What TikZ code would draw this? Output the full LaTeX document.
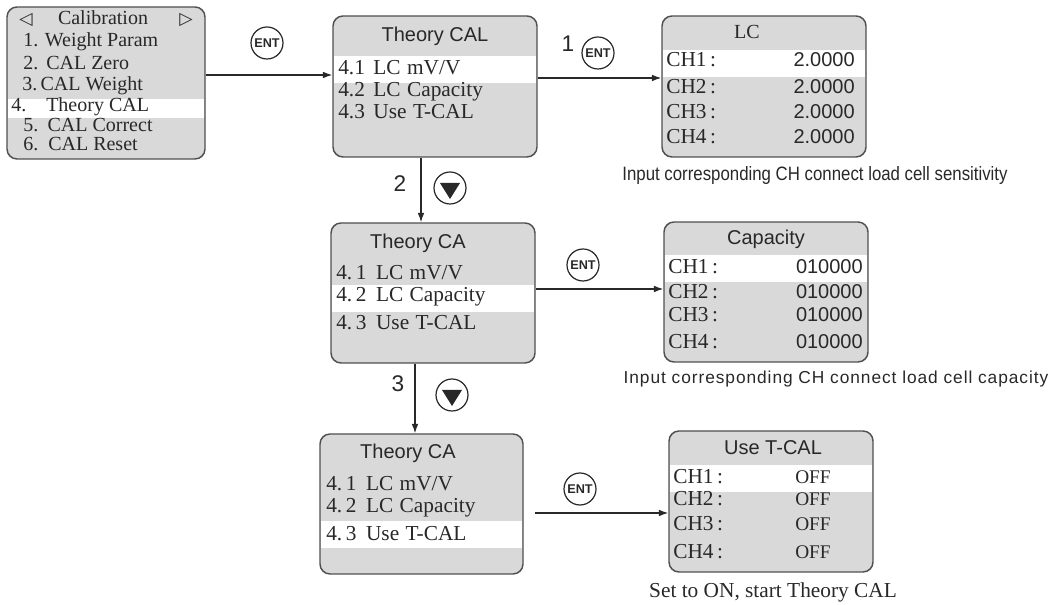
\documentclass[tikz,border=0pt]{standalone}
\usepackage{fontspec}
\setmainfont{Liberation Serif}
\setsansfont{Liberation Sans}
\newfontfamily\symbolfont{DejaVu Sans}
\newfontfamily\narrowsans[FakeStretch=0.87]{Liberation Sans}
\newfontfamily\widesans[LetterSpace=5.4]{Liberation Sans}
\usetikzlibrary{arrows.meta,fit}

\definecolor{screenfill}{RGB}{217,217,217}
\definecolor{framecol}{RGB}{80,80,80}
\definecolor{inkcol}{RGB}{40,40,40}

\tikzset{
  screen/.style={draw=framecol, line width=1.1pt, fill=screenfill,
                 rounded corners=7.5pt, inner sep=0pt},
  hilite/.style={fill=white},
  txt/.style={inner sep=0pt, text=inkcol, text height=0.7em, text depth=0.2em},
  menu/.style={txt, anchor=west, font=\fontsize{15}{15}\selectfont},
  item/.style={txt, anchor=west, font=\fontsize{16}{16}\selectfont},
  chan/.style={txt, anchor=west, font=\fontsize{16}{16}\selectfont},
  val/.style={txt, anchor=east, font=\sffamily\fontsize{15}{15}\selectfont},
  offval/.style={txt, font=\fontsize{14.5}{14.5}\selectfont},
  head/.style={txt, font=\sffamily\fontsize{15}{15}\selectfont},
  seriffhead/.style={txt, font=\fontsize{15}{15}\selectfont},
  arrowsym/.style={txt, font=\symbolfont\fontsize{13}{13}\selectfont},
  link/.style={draw=inkcol, line width=0.9pt, -{Latex[length=7pt,width=5pt]}},
  keycap/.style={circle, draw=inkcol, line width=0.9pt, minimum size=24pt,
                 inner sep=0pt, text=inkcol,
                 font=\sffamily\bfseries\fontsize{9.5}{9.5}\selectfont},
  stepnum/.style={txt, font=\sffamily\fontsize{17}{17}\selectfont},
  note/.style={txt, text=inkcol}
}

\begin{document}
\begin{tikzpicture}[x=0.75pt,y=-0.75pt]
\useasboundingbox (0,0) rectangle (1061,605);

% ---------- main calibration menu ----------
\node[screen, fit={(7,7)(205,159)}] (cal) {};
\fill[hilite] (8,99) rectangle (204,118);
\node[arrowsym] (calL) at (26,21) {◁};
\node[seriffhead] (calT) at (103,21) {Calibration};
\node[arrowsym] (calR) at (186,21) {▷};
\node[menu] (cal1) at (23,43)  {1. Weight Param};
\node[menu] (cal2) at (23,66)  {2.\hspace{6pt}CAL Zero};
\node[menu] (cal3) at (22,87)  {3.\hspace{2.5pt}CAL Weight};
\node[menu] (cal4) at (11,108) {4.\hspace{15pt}Theory CAL};
\node[menu] (cal5) at (23,128) {5.\hspace{7pt}CAL Correct};
\node[menu] (cal6) at (23,147) {6.\hspace{7.5pt}CAL Reset};

% ---------- Theory CAL, item 4.1 selected ----------
\node[screen, fit={(333,16)(537,157)}] (thA) {};
\fill[hilite] (334,56) rectangle (536,83);
\node[head] (thAT) at (435,38) {Theory CAL};
\node[item] (thA1) at (338,71)  {4.1\hspace{0.4em}LC\hspace{0.3em}mV/V};
\node[item] (thA2) at (338,93)  {4.2\hspace{0.4em}LC\hspace{0.3em}Capacity};
\node[item] (thA3) at (338,115) {4.3\hspace{0.4em}Use\hspace{0.3em}T-CAL};

% ---------- Theory CA, item 4.2 selected ----------
\node[screen, fit={(331,223)(535,363)}] (thB) {};
\fill[hilite] (332,285) rectangle (534,312);
\node[head] (thBT) at (418,245) {Theory CA};
\node[item] (thB1) at (336,276) {4.\,1\hspace{0.45em}LC\hspace{0.3em}mV/V};
\node[item] (thB2) at (336,298) {4.\,2\hspace{0.45em}LC\hspace{0.3em}Capacity};
\node[item] (thB3) at (336,326) {4.\,3\hspace{0.45em}Use\hspace{0.3em}T-CAL};

% ---------- Theory CA, item 4.3 selected ----------
\node[screen, fit={(320,434)(523,574)}] (thC) {};
\fill[hilite] (321,521) rectangle (522,548);
\node[head] (thCT) at (408,455) {Theory CA};
\node[item] (thC1) at (326,487) {4.\,1\hspace{0.45em}LC\hspace{0.3em}mV/V};
\node[item] (thC2) at (326,509) {4.\,2\hspace{0.45em}LC\hspace{0.3em}Capacity};
\node[item] (thC3) at (326,537) {4.\,3\hspace{0.45em}Use\hspace{0.3em}T-CAL};

% ---------- LC sensitivity screen ----------
\node[screen, fit={(662,16)(866,157)}] (lc) {};
\fill[hilite] (663,50) rectangle (865,77);
\node[seriffhead] (lcT) at (747,35) {LC};
\node[chan] (lc1) at (666,63)  {CH1\,:};
\node[chan] (lc2) at (666,90)  {CH2\,:};
\node[chan] (lc3) at (666,115) {CH3\,:};
\node[chan] (lc4) at (666,140) {CH4\,:};
\node[val] (lcv1) at (855,63)  {2.0000};
\node[val] (lcv2) at (855,90)  {2.0000};
\node[val] (lcv3) at (855,115) {2.0000};
\node[val] (lcv4) at (855,140) {2.0000};
\node[note, font=\narrowsans\fontsize{14.5}{14.5}\selectfont] (lcN) at (815,177)
  {Input corresponding CH connect load cell sensitivity};

% ---------- capacity screen ----------
\node[screen, fit={(664,222)(868,362)}] (cap) {};
\fill[hilite] (665,255) rectangle (867,282);
\node[head] (capT) at (766,241) {Capacity};
\node[chan] (cap1) at (668,270) {CH1\,:};
\node[chan] (cap2) at (668,295) {CH2\,:};
\node[chan] (cap3) at (668,318) {CH3\,:};
\node[chan] (cap4) at (668,345) {CH4\,:};
\node[val] (capv1) at (863,270) {010000};
\node[val] (capv2) at (863,295) {010000};
\node[val] (capv3) at (863,318) {010000};
\node[val] (capv4) at (863,345) {010000};
\node[note, font=\widesans\fontsize{13}{13}\selectfont] (capN) at (836,380)
  {Input corresponding CH connect load cell capacity};

% ---------- Use T-CAL screen ----------
\node[screen, fit={(669,431)(873,572)}] (use) {};
\fill[hilite] (670,465) rectangle (872,492);
\node[head] (useT) at (773,451) {Use T-CAL};
\node[chan] (use1) at (673,480) {CH1\,:};
\node[chan] (use2) at (673,502) {CH2\,:};
\node[chan] (use3) at (673,527) {CH3\,:};
\node[chan] (use4) at (673,555) {CH4\,:};
\node[offval] (usev1) at (813,480) {OFF};
\node[offval] (usev2) at (813,502) {OFF};
\node[offval] (usev3) at (813,527) {OFF};
\node[offval] (usev4) at (813,555) {OFF};
\node[note, font=\fontsize{16}{16}\selectfont] (useN) at (773,594)
  {Set to ON, start Theory CAL};

% ---------- key icons and step numbers ----------
\node[keycap] (entA) at (267,43) {ENT};
\node[stepnum] (numA) at (568,48) {1};
\node[keycap] (entB) at (598,53) {ENT};
\node[stepnum] (numB) at (400,188) {2};
\node[keycap] (downB) at (450,188) {};
\fill[inkcol] ([shift={(-10,-5)}]downB.center) -- ++(20,0) -- ++(-10,16) -- cycle;
\node[keycap] (entC) at (583,265) {ENT};
\node[stepnum] (numC) at (398,388) {3};
\node[keycap] (downC) at (452,395) {};
\fill[inkcol] ([shift={(-10,-5)}]downC.center) -- ++(20,0) -- ++(-10,16) -- cycle;
\node[keycap] (entD) at (580,489) {ENT};

% ---------- connectors ----------
\coordinate (rowA) at (0,75);
\coordinate (rowB) at (0,78);
\coordinate (rowC) at (0,289);
\coordinate (colA) at (421,0);
\coordinate (colB) at (415,0);
\coordinate (tailD) at (535,513);
\draw[link] (cal.east |- rowA) -- (thA.west |- rowA);
\draw[link] (thA.east |- rowB) -- (lc.west |- rowB);
\draw[link] (thA.south -| colA) -- (thB.north -| colA);
\draw[link] (thB.east |- rowC) -- (cap.west |- rowC);
\draw[link] (thB.south -| colB) -- (thC.north -| colB);
\draw[link] (tailD) -- (use.west |- tailD);
\end{tikzpicture}
\end{document}
